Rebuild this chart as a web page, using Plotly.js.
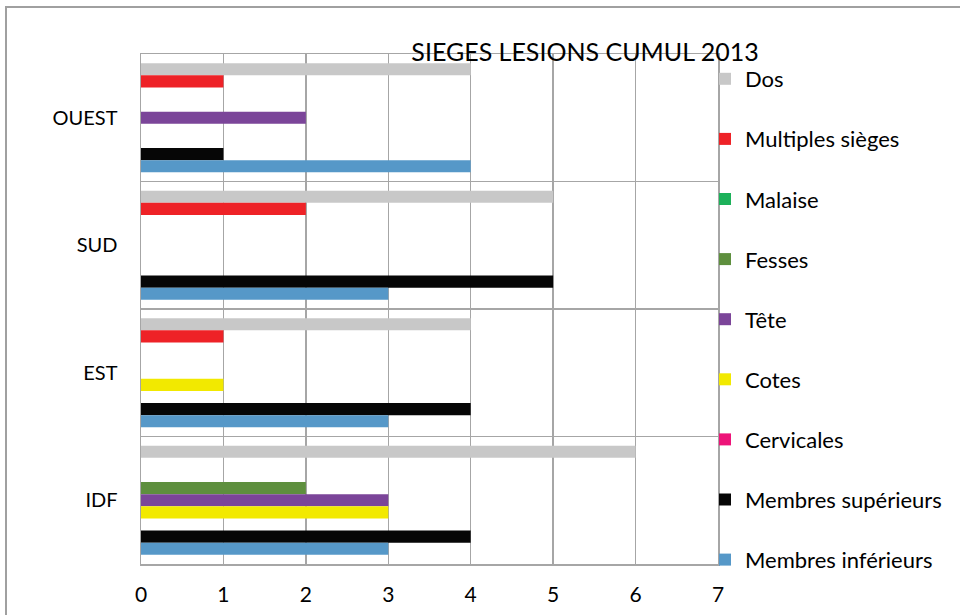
<!DOCTYPE html>
<html>
<head>
<meta charset="utf-8">
<script src="https://cdn.plot.ly/plotly-3.0.1.min.js"></script>
<style>
html,body{margin:0;padding:0;background:#fff;}
#wrap{position:relative;width:960px;height:615px;overflow:hidden;}
#chart{position:absolute;left:0;top:0;width:960px;height:615px;}
#frame{position:absolute;left:5px;top:6px;width:1000px;height:700px;border-left:2px solid #a0a0a0;border-top:2px solid #a0a0a0;pointer-events:none;}
</style>
</head>
<body>
<div id="wrap"><div id="chart"></div><div id="frame"></div></div>
<script>
// Categories (top to bottom)
const regions = ['OUEST', 'SUD', 'EST', 'IDF'];

// Series values per region [OUEST, SUD, EST, IDF]
const dos               = [4, 5, 4, 6];
const multiplesSieges   = [1, 2, 1, 0];
const malaise           = [0, 0, 0, 0];
const fesses            = [0, 0, 0, 2];
const tete              = [2, 0, 0, 3];
const cotes             = [0, 0, 1, 3];
const cervicales        = [0, 0, 0, 0];
const membresSuperieurs = [1, 5, 4, 4];
const membresInferieurs = [4, 3, 3, 3];

const seriesNames = ['Dos', 'Multiples sièges', 'Malaise', 'Fesses', 'Tête', 'Cotes', 'Cervicales', 'Membres supérieurs', 'Membres inférieurs'];
const seriesValues = [dos, multiplesSieges, malaise, fesses, tete, cotes, cervicales, membresSuperieurs, membresInferieurs];
const seriesColors = ['#c8c8c8', '#ee2227', '#1db15a', '#5e8f3e', '#7b4599', '#f2e900', '#ed1479', '#060606', '#5698c8'];

const xTicks = [0, 1, 2, 3, 4, 5, 6, 7];

const FONT = 'Lato, "Open Sans", sans-serif';

const traces = seriesNames.map((name, i) => ({
  type: 'bar',
  orientation: 'h',
  name: name,
  y: regions,
  x: seriesValues[i],
  legendgroup: 'g' + i,
  marker: {color: seriesColors[i], line: {width: 0}},
  hoverinfo: 'x+name'
}));

const layout = {
  width: 960,
  height: 615,
  margin: {l: 141, r: 242, t: 54, b: 51, pad: 0},
  paper_bgcolor: '#ffffff',
  plot_bgcolor: '#ffffff',
  font: {family: FONT, color: '#000000', size: 19},
  title: {
    text: 'SIEGES LESIONS CUMUL 2013',
    font: {family: FONT, size: 25, color: '#000000'},
    x: 585 / 960, xanchor: 'center', xref: 'container',
    y: 1 - 52 / 615, yanchor: 'middle', yref: 'container'
  },
  barmode: 'group',
  bargap: 0.144,
  bargroupgap: 0,
  showlegend: true,
  legend: {
    traceorder: 'grouped',
    tracegroupgap: 28.5,
    x: 1 - 13 / 577, xanchor: 'left', xref: 'paper',
    y: 1 - 4 / 510, yanchor: 'top',
    maxheight: 600,
    font: {family: FONT, size: 22, color: '#000000'},
    itemwidth: 30,
    bgcolor: 'rgba(0,0,0,0)'
  },
  xaxis: {
    range: [0, 7],
    tickvals: xTicks,
    ticktext: xTicks.map(String),
    showgrid: true,
    gridcolor: '#a6a6a6',
    gridwidth: 1.5,
    zeroline: false,
    showline: true,
    linecolor: '#a6a6a6',
    linewidth: 1.5,
    mirror: true,
    ticks: '',
    ticklabelstandoff: 11,
    tickfont: {family: FONT, size: 21, color: '#000000'},
    fixedrange: true
  },
  yaxis: {
    type: 'category',
    categoryorder: 'array',
    categoryarray: regions,
    autorange: 'reversed',
    tickson: 'boundaries',
    showgrid: true,
    gridcolor: '#a6a6a6',
    gridwidth: 1.5,
    showline: true,
    linecolor: '#a6a6a6',
    linewidth: 1.5,
    mirror: true,
    ticks: '',
    ticklabelstandoff: 18,
    tickfont: {family: FONT, size: 20, color: '#000000'},
    fixedrange: true
  }
};

Plotly.newPlot('chart', traces, layout, {displayModeBar: false, staticPlot: true});
</script>
</body>
</html>
